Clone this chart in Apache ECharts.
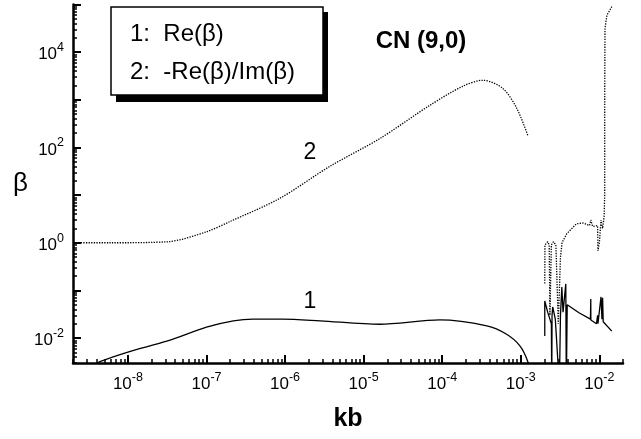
<!DOCTYPE html>
<html>
<head>
<meta charset="utf-8">
<script src="https://cdn.jsdelivr.net/npm/echarts@6/dist/echarts.min.js"></script>
<style>
html, body { margin: 0; padding: 0; background: #fff; }
#chart { width: 641px; height: 439px; }
</style>
</head>
<body>
<div id="chart"></div>
<script>
// axis ranges (raw values, both axes logarithmic)
const xRange = [2e-9, 2e-2];
const yRange = [3e-3, 1e5];
const xLabelDecades = [-8, -7, -6, -5, -4, -3, -2];
const xTickDecades = [-8, -7, -6, -5, -4, -3, -2];
const yLabelDecades = [-2, 0, 2, 4];
const yTickDecades = [-2, -1, 0, 1, 2, 3, 4, 5];

// curve 1: Re(beta), [kb, beta]
const reLow = [
    [3.8e-9, 2.7e-3], [4.4e-9, 3.2e-3], [1e-8, 5.1e-3], [3.2e-8, 8.7e-3],
    [1e-7, 1.7e-2], [2.2e-7, 2.3e-2], [3.9e-7, 2.5e-2], [9.3e-7, 2.5e-2],
    [2.8e-6, 2.3e-2], [1.6e-5, 1.95e-2], [9.3e-5, 2.4e-2], [3.7e-4, 1.8e-2],
    [6.6e-4, 1.2e-2], [9.8e-4, 6.8e-3], [1.23e-3, 3.2e-3], [1.28e-3, 2.0e-3]
];
const reHigh = [
    [2.02e-3, 0.011], [2.02e-3, 0.060], [2.2e-3, 0.035], [2.45e-3, 0.02],
    [2.48e-3, 1e-3], [2.5e-3, 0.03], [2.55e-3, 0.045], [2.75e-3, 0.025],
    [3.1e-3, 1e-3], [3.2e-3, 0.03], [3.33e-3, 0.118], [3.45e-3, 0.035],
    [3.74e-3, 0.137], [3.8e-3, 1e-3], [3.9e-3, 0.05], [4.0e-3, 0.047],
    [5.5e-3, 0.034], [7.7e-3, 0.025], [7.78e-3, 0.066], [7.8e-3, 0.024],
    [9.2e-3, 0.02], [9.5e-3, 0.03], [9.6e-3, 0.02], [1.0e-2, 0.022],
    [1.05e-2, 0.073], [1.08e-2, 0.025], [1.1e-2, 0.07], [1.12e-2, 0.022],
    [1.44e-2, 0.014]
];

// curve 2: -Re(beta)/Im(beta)
const ratioLow = [
    [2e-9, 1.0], [5.9e-9, 1.0], [3.2e-8, 1.05], [1e-7, 1.7], [2.0e-7, 2.8],
    [8.5e-7, 8.5], [3.7e-6, 40], [1.62e-5, 155], [6.9e-5, 760],
    [1.82e-4, 1920], [3.3e-4, 2570], [5.9e-4, 1740], [8.9e-4, 660],
    [1.23e-3, 178]
];
const ratioHigh = [
    [2.02e-3, 0.14], [2.03e-3, 0.9], [2.2e-3, 1.05], [2.3e-3, 0.9],
    [2.35e-3, 0.03], [2.45e-3, 0.9], [2.6e-3, 1.05], [2.8e-3, 0.9],
    [3.0e-3, 0.02], [3.2e-3, 0.5], [3.35e-3, 1.0], [3.85e-3, 1.55],
    [5.1e-3, 2.5], [6.2e-3, 2.6], [7.5e-3, 2.3], [7.8e-3, 3.0],
    [8.2e-3, 2.2], [9.5e-3, 2.3], [9.6e-3, 0.68], [1.0e-2, 1.0],
    [1.05e-2, 3.0], [1.1e-2, 2.0], [1.15e-2, 3.5], [1.17e-2, 10],
    [1.17e-2, 1000], [1.18e-2, 3.2e4], [1.25e-2, 6e4], [1.44e-2, 9e4]
];

const lg = Math.log10;
const toLog = pts => pts.map(p => [lg(p[0]), lg(p[1])]);

function minorTicks(range) {
    const lo = lg(range[0]), hi = lg(range[1]);
    const out = [];
    for (let d = Math.floor(lo); d < Math.ceil(hi); d++) {
        for (let m = 2; m <= 9; m++) {
            const v = d + lg(m);
            if (v >= lo - 1e-9 && v <= hi + 1e-9) out.push(v);
        }
    }
    return out;
}

const font = 'Liberation Sans';
const powLabel = {
    color: '#000',
    fontFamily: font,
    formatter: v => '{b|10}{s|' + Math.round(v) + '}',
    rich: {
        b: { fontSize: 17, fontFamily: font, lineHeight: 22, verticalAlign: 'bottom' },
        s: { fontSize: 12.5, fontFamily: font, lineHeight: 12, verticalAlign: 'top' }
    }
};

function axisPair(range, labelDecades, tickDecades, isX) {
    const base = {
        type: 'value',
        min: lg(range[0]),
        max: lg(range[1]),
        splitLine: { show: false },
        axisLine: { onZero: false, lineStyle: { color: '#000', width: 2.5 } }
    };
    const main = Object.assign({}, base, {
        axisTick: {
            inside: true, length: 8, customValues: tickDecades,
            lineStyle: { color: '#000', width: 2 }
        },
        axisLabel: Object.assign({ customValues: labelDecades, margin: isX ? 8 : 9 }, powLabel)
    });
    const minor = Object.assign({}, base, {
        axisLine: { show: false, onZero: false },
        axisTick: {
            inside: true, length: 4, customValues: minorTicks(range),
            lineStyle: { color: '#000', width: 1.5 }
        },
        axisLabel: { show: false }
    });
    if (isX) {
        main.position = 'bottom'; minor.position = 'bottom';
        main.name = 'kb'; main.nameLocation = 'middle'; main.nameGap = 44;
        main.nameTextStyle = { fontSize: 25, fontWeight: 'bold', color: '#000', fontFamily: font };
    } else {
        main.position = 'left'; minor.position = 'left';
        main.name = 'β'; main.nameLocation = 'middle'; main.nameGap = 45; main.nameRotate = 0;
        main.nameTextStyle = { fontSize: 26, color: '#000', fontFamily: font };
    }
    return [main, minor];
}

const solid = { color: '#000', width: 1.3, type: 'solid' };
const dotted = { color: '#000', width: 1.3, type: [1.3, 1.3] };

const option = {
    animation: false,
    backgroundColor: '#fff',
    grid: { left: 73, right: 18, top: 4.5, bottom: 76 },
    xAxis: axisPair(xRange, xLabelDecades, xTickDecades, true),
    yAxis: axisPair(yRange, yLabelDecades, yTickDecades, false),
    series: [
        { name: '1', type: 'line', data: toLog(reLow), showSymbol: false, smooth: 0.3, lineStyle: solid },
        { name: '1', type: 'line', data: toLog(reHigh), showSymbol: false, lineStyle: solid },
        { name: '2', type: 'line', data: toLog(ratioLow), showSymbol: false, smooth: 0.3, lineStyle: dotted },
        { name: '2', type: 'line', data: toLog(ratioHigh), showSymbol: false, lineStyle: dotted }
    ],
    graphic: [
        { type: 'rect', shape: { x: 116, y: 12, width: 212, height: 90 }, style: { fill: '#000' } },
        { type: 'rect', shape: { x: 111, y: 7, width: 212, height: 88 }, style: { fill: '#fff', stroke: '#000', lineWidth: 1.5 } },
        { type: 'text', style: { text: '1:  Re(β)', x: 130, y: 34, font: '24px "Liberation Sans"', fill: '#000', textVerticalAlign: 'middle' } },
        { type: 'text', style: { text: '2:  -Re(β)/Im(β)', x: 130, y: 72, font: '24px "Liberation Sans"', fill: '#000', textVerticalAlign: 'middle' } },
        { type: 'text', style: { text: 'CN (9,0)', x: 421, y: 41, font: 'bold 24px "Liberation Sans"', fill: '#000', textAlign: 'center', textVerticalAlign: 'middle' } },
        { type: 'text', style: { text: '2', x: 310, y: 153, font: '23px "Liberation Sans"', fill: '#000', textAlign: 'center', textVerticalAlign: 'middle' } },
        { type: 'text', style: { text: '1', x: 310, y: 302, font: '23px "Liberation Sans"', fill: '#000', textAlign: 'center', textVerticalAlign: 'middle' } }
    ]
};

echarts.init(document.getElementById('chart')).setOption(option);
</script>
</body>
</html>
